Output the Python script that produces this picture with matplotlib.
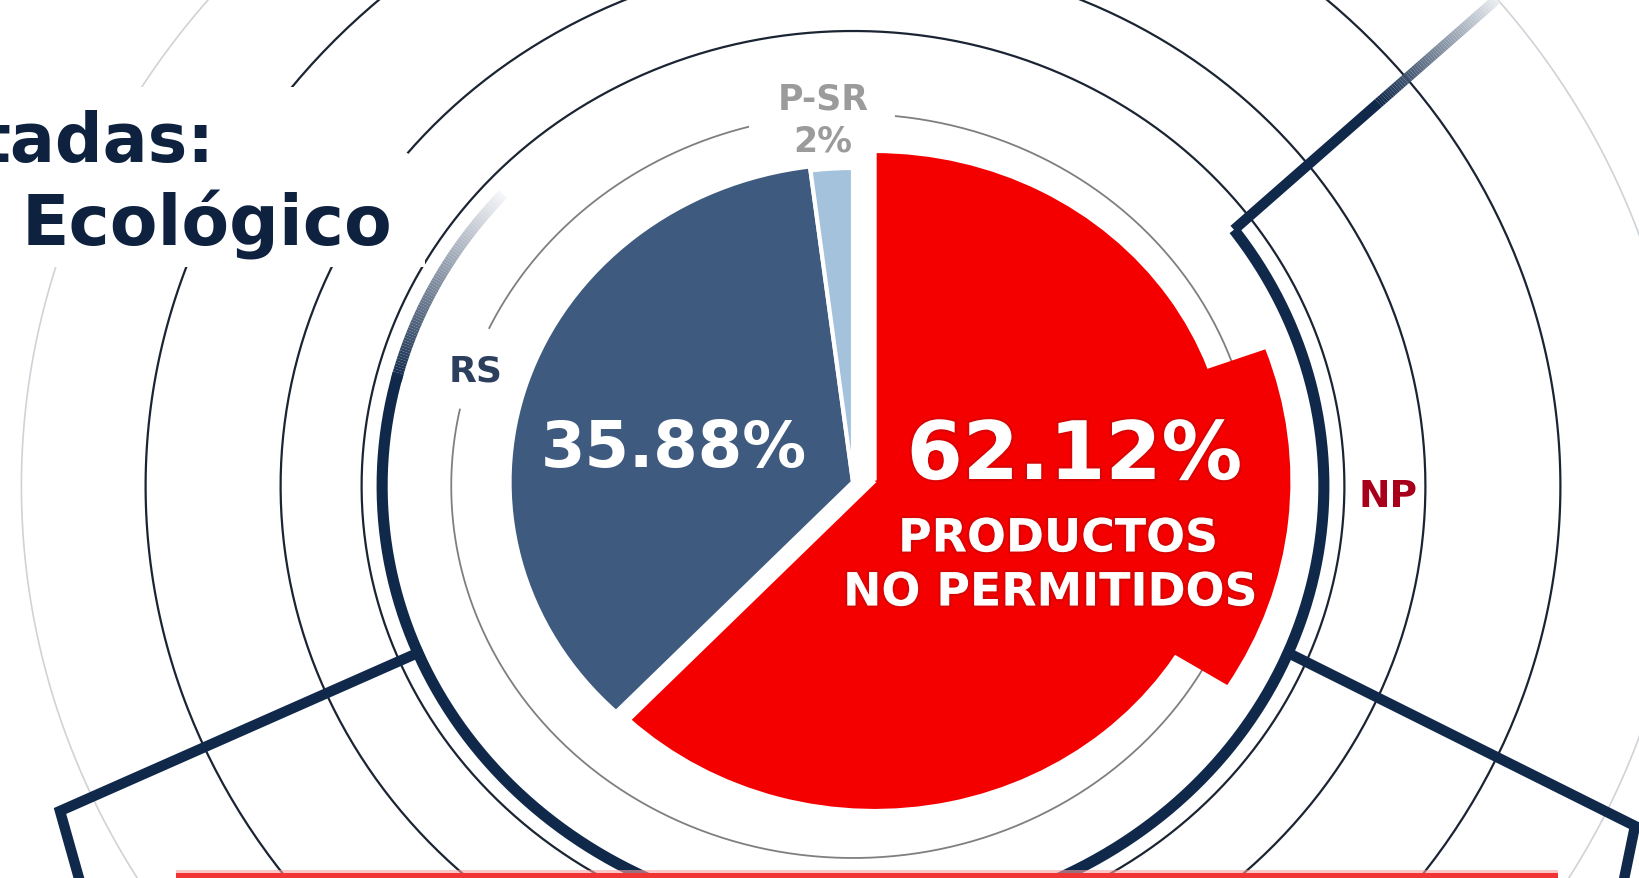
import matplotlib.pyplot as plt
import matplotlib.patheffects as pe
import numpy as np
from matplotlib.patches import Wedge, Polygon, Rectangle
from matplotlib.collections import LineCollection
from matplotlib.colors import to_rgb

# data
categories = ["NP", "RS", "P-SR"]
shares = [62.12, 35.88, 2.0]
value_labels = ["62.12%", "35.88%", "2%"]
slice_colors = ["#f40000", "#3e5a7e", "#a4c2dc"]
np_caption = ["PRODUCTOS", "NO PERMITIDOS"]
title_lines = ["tadas:", "Ecológico"]

W, H = 1639, 879
CX, CY = 853, 487   # ring centre in pixels
SX = 1.08           # artwork is a bit wider than tall

NAVY = "#10294b"
DARK = "#1b2433"

plt.rcParams['font.family'] = ['DejaVu Sans']

fig = plt.figure(figsize=(W / 100, H / 100), dpi=100)
ax = fig.add_axes([0, 0, 1, 1])


def px(x, y):
    return (x - CX) / SX, CY - y


def ring(r, a0, a1, **kw):
    t = np.radians(np.linspace(a0, a1, 500))
    ax.plot(r * np.cos(t), r * np.sin(t), solid_capstyle='butt', **kw)


def fade(xs, ys, c0, c1, lw, z):
    # colour goes from c0 (first point) to c1 (last point)
    pts = np.column_stack([xs, ys])
    segs = np.stack([pts[:-1], pts[1:]], axis=1)
    k = np.linspace(0, 1, len(segs))[:, None]
    cols = (1 - k) * np.array(to_rgb(c0)) + k * np.array(to_rgb(c1))
    ax.add_collection(LineCollection(segs, colors=cols, linewidths=lw,
                                     capstyle='butt', zorder=z))


# background rings
ring(770, 0, 360, color="#cfd3d8", lw=1.2, zorder=1)
ring(655, 0, 360, color=DARK, lw=1.6, zorder=1)
ring(530, 0, 360, color=DARK, lw=1.6, zorder=1)
ring(455, 0, 360, color=DARK, lw=1.6, zorder=1)
ring(372, 105, 155, color="#7f7f7f", lw=1.3, zorder=1)
ring(372, 168, 444, color="#7f7f7f", lw=1.3, zorder=1)

# thick navy ring + brackets
R_T = 436
ring(R_T, 165, 396, color=NAVY, lw=8, zorder=3)
t = np.radians(np.linspace(138, 166, 80))
fade(R_T * np.cos(t), R_T * np.sin(t), "#f4f5f7", NAVY, 8, 3)

a = np.radians(36)
j = (R_T * np.cos(a), R_T * np.sin(a))
top = px(1497, 0)
mid = (j[0] + 0.55 * (top[0] - j[0]), j[1] + 0.55 * (top[1] - j[1]))
ax.plot([j[0], mid[0]], [j[1], mid[1]], color=NAVY, lw=7.5,
        solid_capstyle='butt', zorder=3)
s = np.linspace(0, 1, 60)
fade(mid[0] + s * (top[0] - mid[0]), mid[1] + s * (top[1] - mid[1]),
     NAVY, "#e9ecf0", 7.5, 3)

a = np.radians(-22.5)
p = [(R_T * np.cos(a), R_T * np.sin(a)), px(1635, 827), px(1622, 890)]
ax.plot(*zip(*p), color=NAVY, lw=7.5, solid_joinstyle='miter', zorder=3)
a = np.radians(202.5)
p = [(R_T * np.cos(a), R_T * np.sin(a)), px(60, 812), px(82, 890)]
ax.plot(*zip(*p), color=NAVY, lw=7.5, solid_joinstyle='miter', zorder=3)

# pie
wedges, _ = ax.pie(shares, colors=slice_colors, startangle=90,
                   counterclock=False, radius=318, center=(0, 4),
                   wedgeprops=dict(edgecolor='white', linewidth=3),
                   frame=True)
for w in wedges:
    w.set_zorder(4)
red_c = (20, 5)
wedges[0].set_center(red_c)
wedges[0].set_radius(330)
wedges[2].set_radius(314)
ax.add_patch(Wedge(red_c, 385, -32, 20, facecolor=slice_colors[0],
                   edgecolor='none', zorder=5))

# mask behind the title
ax.add_patch(Polygon([px(0, 88), px(300, 88), px(425, 165), px(425, 268),
                      px(0, 268)], closed=True, facecolor='white',
                     edgecolor='none', zorder=6))

glow = [pe.withStroke(linewidth=3, foreground="#c40808", alpha=0.55)]
ax.text(205, 29, value_labels[0], color='white', fontsize=58,
        fontweight='bold', ha='center', va='center', zorder=8,
        path_effects=glow)
ax.text(190, -53, np_caption[0], color='white', fontsize=33,
        fontweight='bold', ha='center', va='center', zorder=8,
        path_effects=glow)
ax.text(183, -107, np_caption[1], color='white', fontsize=33,
        fontweight='bold', ha='center', va='center', zorder=8,
        path_effects=glow)
ax.text(-166, 38, value_labels[1], color='white', fontsize=46,
        fontweight='bold', ha='center', va='center', zorder=8)

ax.text(-28, 388, categories[2], color="#9b9b9b", fontsize=25,
        fontweight='bold', ha='center', va='center', zorder=8)
ax.text(-28, 346, value_labels[2], color="#9b9b9b", fontsize=25,
        fontweight='bold', ha='center', va='center', zorder=8)
ax.text(-349, 116, categories[1], color="#2c3f5d", fontsize=26,
        fontweight='bold', ha='center', va='center', zorder=8)
ax.text(495, -10, categories[0], color="#a8001a", fontsize=27,
        fontweight='bold', ha='center', va='center', zorder=8)

x, y = px(214, 162)
ax.text(x, y, title_lines[0], color="#0e2240", fontsize=48,
        fontweight='bold', ha='right', va='baseline', zorder=8)
x, y = px(22, 246)
ax.text(x, y, title_lines[1], color="#0e2240", fontsize=50,
        fontweight='bold', ha='left', va='baseline', zorder=8)

# red bar peeking at the bottom
x0, y0 = px(176, 879)
x1, _ = px(1558, 879)
ax.add_patch(Rectangle((x0, y0), x1 - x0, 5, facecolor="#f23434",
                       edgecolor='none', zorder=9))
ax.add_patch(Rectangle((x0, y0 + 5), x1 - x0, 3, facecolor="#f7a0a0",
                       edgecolor='none', alpha=0.6, zorder=9))

ax.set_aspect('auto')
ax.set_xlim(px(0, 0)[0], px(W, 0)[0])
ax.set_ylim(px(0, H)[1], px(0, 0)[1])
ax.axis('off')

fig.savefig("out.png", dpi=100, facecolor='white')
